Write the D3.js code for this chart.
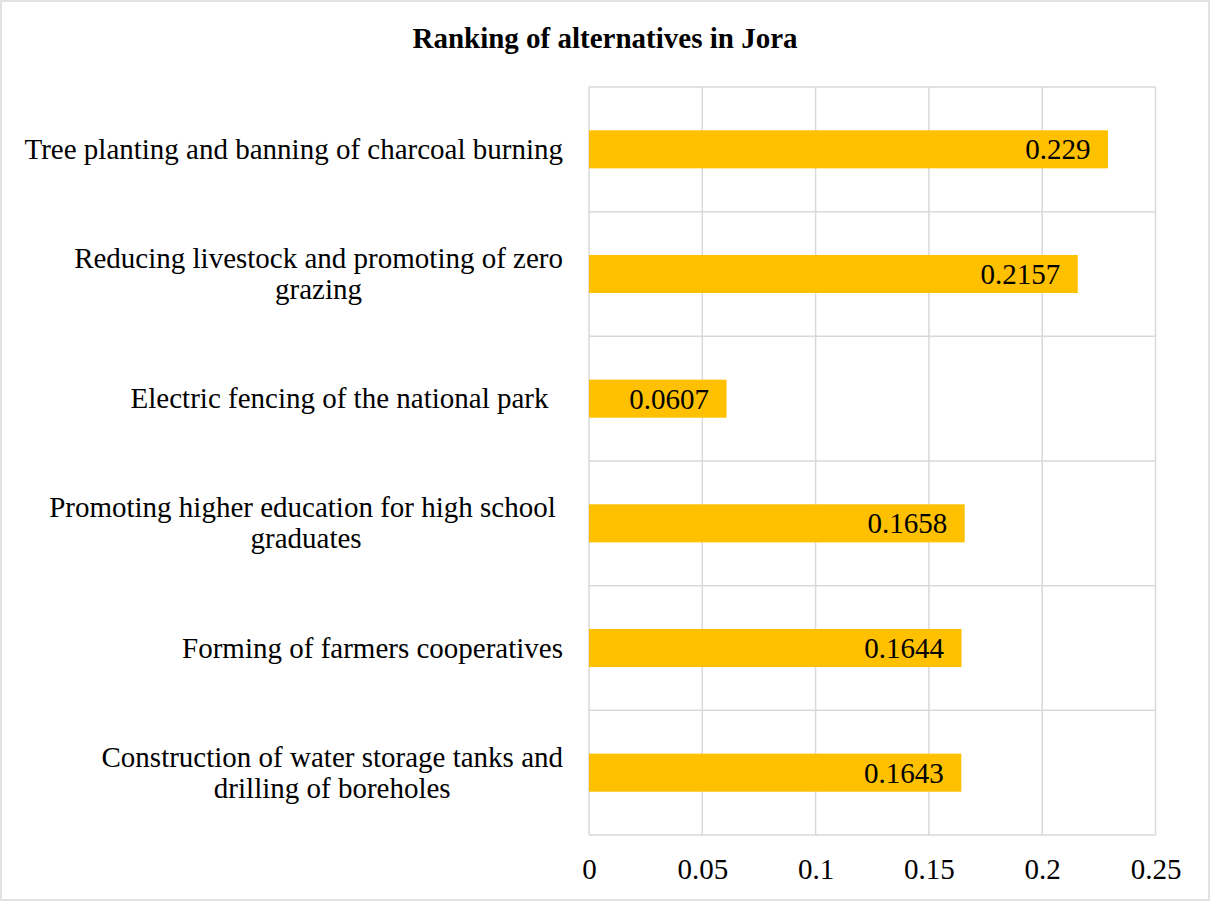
<!DOCTYPE html>
<html><head><meta charset="utf-8">
<script src="https://cdn.jsdelivr.net/npm/d3@7"></script>
<style>body{margin:0;background:#fff;} text{font-family:"Liberation Serif","Times New Roman",serif;}</style>
</head><body>
<svg id="c" width="1211" height="902"></svg>
<script>
const title = "Ranking of alternatives in Jora";
const categories = [
  ["Tree planting and banning of charcoal burning"],
  ["Reducing livestock and promoting of zero", "grazing"],
  ["Electric fencing of the national park  "],
  ["Promoting higher education for high school ", "graduates"],
  ["Forming of farmers cooperatives"],
  ["Construction of water storage tanks and", "drilling of boreholes"]
];
const values = [0.229, 0.2157, 0.0607, 0.1658, 0.1644, 0.1643];
const valueLabels = ["0.229", "0.2157", "0.0607", "0.1658", "0.1644", "0.1643"];
const ticks = [0, 0.05, 0.1, 0.15, 0.2, 0.25];
const tickLabels = ["0", "0.05", "0.1", "0.15", "0.2", "0.25"];

const FS = 29;
const svg = d3.select("#c");
const L = 589, R = 1155.5, T = 87, B = 835;
svg.append("rect").attr("x",1).attr("y",1).attr("width",1208).attr("height",899)
  .attr("fill","#fff").attr("stroke","#d9d9d9").attr("stroke-width",1.5);

svg.append("text").attr("x",605).attr("y",48).attr("text-anchor","middle")
  .attr("font-weight","bold").attr("font-size",FS).attr("fill","#000").text(title);

const x = d3.scaleLinear().domain([0,0.25]).range([L,R]);
const idx = d3.range(categories.length);
const y = d3.scaleBand().domain(idx).range([T,B]).paddingInner(0.695).paddingOuter(0.3475);
const yb = d3.scaleBand().domain(idx).range([T,B]);

// vertical gridlines
svg.append("g").selectAll("line").data(ticks).join("line")
  .attr("x1",d=>x(d)).attr("x2",d=>x(d)).attr("y1",T).attr("y2",B)
  .attr("stroke","#d9d9d9").attr("stroke-width",1.5);
// horizontal band lines
const hb = idx.map(i=>yb(i)).concat([B]);
svg.append("g").selectAll("line").data(hb).join("line")
  .attr("x1",L).attr("x2",R).attr("y1",d=>d).attr("y2",d=>d)
  .attr("stroke","#d9d9d9").attr("stroke-width",1.5);

// bars
svg.append("g").selectAll("rect").data(values).join("rect")
  .attr("x",x(0)).attr("y",(d,i)=>y(i)).attr("width",d=>x(d)-x(0)).attr("height",y.bandwidth())
  .attr("fill","#FFC000");

// value labels
svg.append("g").selectAll("text").data(values).join("text")
  .attr("x",d=>x(d)-17.5).attr("y",(d,i)=>y(i)+y.bandwidth()/2+10)
  .attr("text-anchor","end").attr("font-size",FS).attr("fill","#000")
  .text((d,i)=>valueLabels[i]);

// x axis tick labels
const xa = d3.axisBottom(x).tickValues(ticks).tickFormat((d,i)=>tickLabels[i]).tickSize(0).tickPadding(0);
const gx = svg.append("g").attr("transform",`translate(0,879)`).call(xa);
gx.select(".domain").remove();
gx.selectAll("text").attr("font-size",FS).attr("fill","#000").attr("dy","0")
  .style("font-family",'"Liberation Serif","Times New Roman",serif');

// category labels
const lineH = 31;
const cg = svg.append("g");
categories.forEach((lines,i)=>{
  const cy = yb(i)+yb.bandwidth()/2;
  const g = cg.append("g");
  const ts = lines.map((s,k)=>g.append("text").attr("font-size",FS).attr("fill","#000")
    .style("white-space","pre").attr("text-anchor","middle")
    .attr("y", cy + (k-(lines.length-1)/2)*lineH + 9.5).text(s));
  const w = d3.max(ts, t=>t.node().getComputedTextLength());
  ts.forEach(t=>t.attr("x", 563 - w/2));
});
</script>
</body></html>
